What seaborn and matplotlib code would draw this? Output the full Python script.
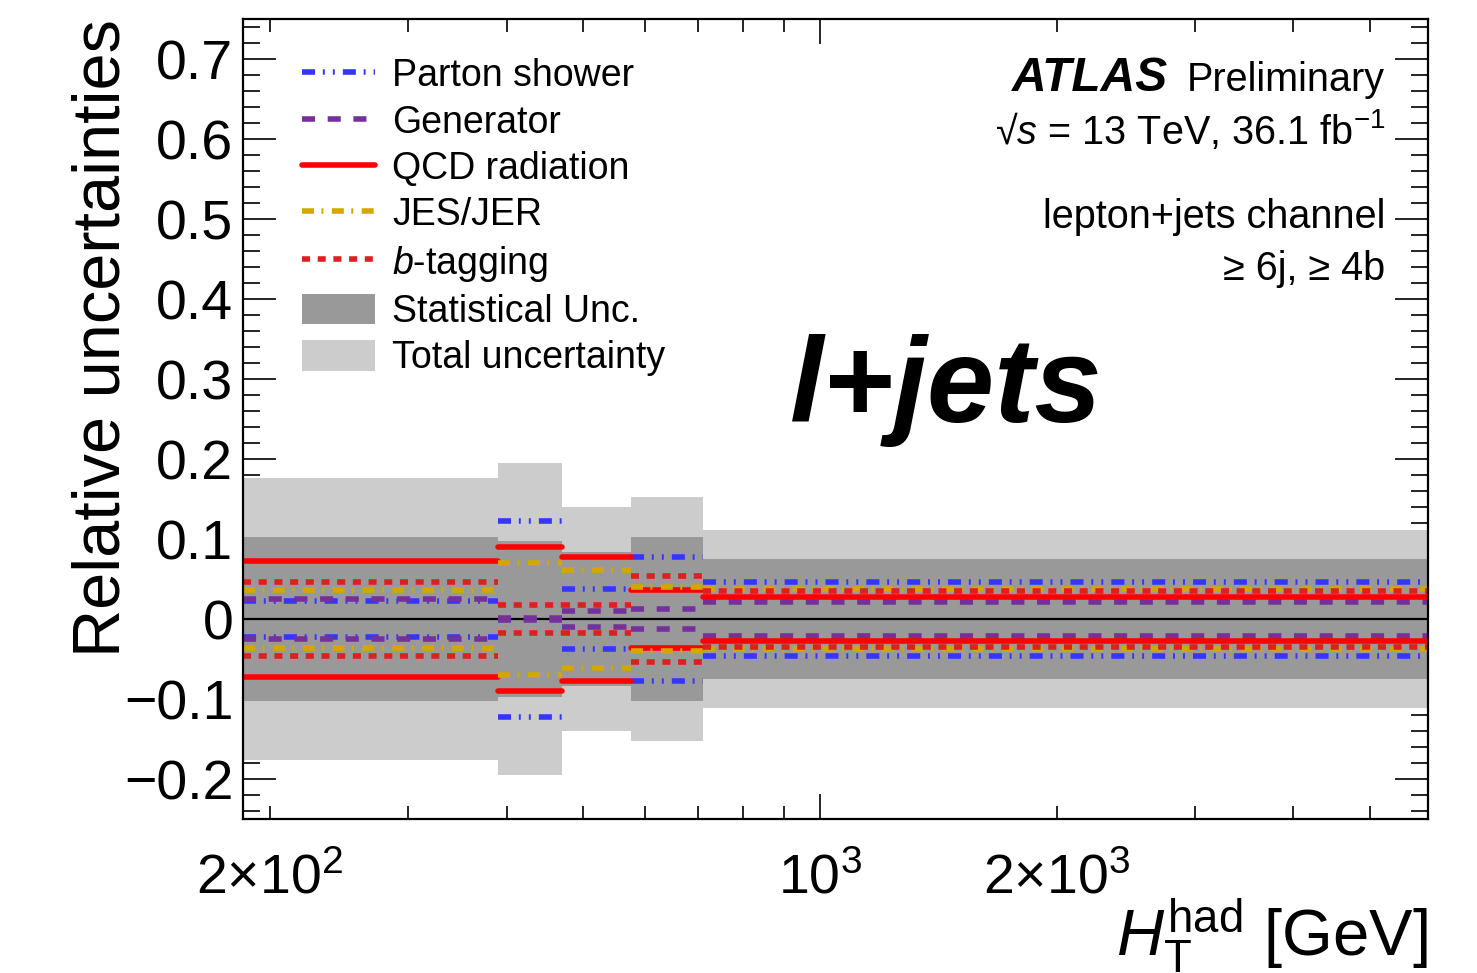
import numpy as np
import pandas as pd
import matplotlib
matplotlib.use("Agg")
import matplotlib.pyplot as plt
from matplotlib.lines import Line2D
from matplotlib.patches import Patch
from matplotlib.ticker import FixedLocator, FixedFormatter, MultipleLocator, FuncFormatter
import seaborn as sns

# ---- binning in H_T^had [GeV] ----
bin_edges = [185, 390, 470, 575, 710, 5930]

# ---- relative uncertainties per bin (symmetric, +/-) ----
parton_shower = [0.022, 0.123, 0.037, 0.078, 0.046]
generator = [0.025, 0.001, 0.010, 0.012, 0.021]
qcd_radiation = [0.073, 0.090, 0.077, 0.036, 0.028]
jes_jer = [0.036, 0.070, 0.061, 0.040, 0.037]
b_tagging = [0.046, 0.017, 0.017, 0.054, 0.035]
stat_unc = [0.103, 0.097, 0.084, 0.102, 0.075]
total_unc = [0.176, 0.195, 0.140, 0.153, 0.111]

source_names = ["Parton shower", "Generator", "QCD radiation", "JES/JER", "$b$-tagging"]
legend_band_names = ["Statistical Unc.", "Total uncertainty"]

y_tick_values = [-0.2, -0.1, 0.0, 0.1, 0.2, 0.3, 0.4, 0.5, 0.6, 0.7]
y_tick_labels = ["\u22120.2", "\u22120.1", "0", "0.1", "0.2", "0.3", "0.4", "0.5", "0.6", "0.7"]
x_major_ticks = [1000]
x_minor_ticks = [200, 300, 400, 500, 600, 700, 800, 900, 2000, 3000, 4000, 5000]
x_tick_labels = {200: r"$2{\times}10^{2}$", 1000: r"$10^{3}$", 2000: r"$2{\times}10^{3}$"}

# ---- style ----
sns.set_theme(style="ticks")
plt.rcParams["font.family"] = ["Liberation Sans", "DejaVu Sans"]
plt.rcParams["mathtext.fontset"] = "custom"
plt.rcParams["mathtext.rm"] = "Liberation Sans"
plt.rcParams["mathtext.it"] = "Liberation Sans:italic"
plt.rcParams["mathtext.bf"] = "Liberation Sans:bold"
plt.rcParams["lines.scale_dashes"] = False
plt.rcParams["lines.dash_capstyle"] = "butt"
plt.rcParams["text.color"] = "black"
plt.rcParams["axes.labelcolor"] = "black"
plt.rcParams["xtick.color"] = "black"
plt.rcParams["ytick.color"] = "black"

colors = {
    "Parton shower": "#3535ff",
    "Generator": "#76309c",
    "QCD radiation": "#ff0000",
    "JES/JER": "#d2a800",
    "$b$-tagging": "#dc2020",
}
dash_map = {
    "Parton shower": (9.4, 5.6, 1.4, 5.8, 1.4, 5.8),
    "Generator": (9.4, 9.1),
    "QCD radiation": "",
    "JES/JER": (8.6, 5.4, 1.4, 6.1),
    "$b$-tagging": (5.8, 5.5),
}
LW = 4.0

fig = plt.figure(figsize=(14.77, 9.73), dpi=100)
ax = fig.add_axes([243 / 1477, 1 - 819 / 973, (1428 - 243) / 1477, 800 / 973])
ax.set_xscale("log")

# ---- uncertainty bands ----
edges = np.array(bin_edges, dtype=float)
tot = np.r_[total_unc, total_unc[-1]]
sta = np.r_[stat_unc, stat_unc[-1]]
ax.fill_between(edges, -tot, tot, step="post", color="#cccccc", lw=0, zorder=1)
ax.fill_between(edges, -sta, sta, step="post", color="#999999", lw=0, zorder=1.1)
ax.axhline(0, color="black", lw=1.6, zorder=1.5)

# ---- systematic components as per-bin horizontal segments ----
rows = []
series = [parton_shower, generator, qcd_radiation, jes_jer, b_tagging]
for name, vals in zip(source_names, series):
    for i, v in enumerate(vals):
        for sign in (1, -1):
            seg = f"{name}_{i}_{sign}"
            rows.append(dict(x=bin_edges[i], y=sign * v, source=name, seg=seg))
            rows.append(dict(x=bin_edges[i + 1], y=sign * v, source=name, seg=seg))
df = pd.DataFrame(rows)

sns.lineplot(
    data=df, x="x", y="y", hue="source", style="source", units="seg",
    estimator=None, sort=False, palette=colors, dashes=dash_map,
    hue_order=source_names, style_order=source_names,
    linewidth=LW, legend=False, ax=ax, zorder=2,
)

# ---- axes ----
ax.set_xlim(bin_edges[0], bin_edges[-1])
ax.set_ylim(-0.25, 0.75)
ax.xaxis.set_major_locator(FixedLocator(x_major_ticks))
ax.xaxis.set_minor_locator(FixedLocator(x_minor_ticks))
ax.xaxis.set_major_formatter(FuncFormatter(lambda v, p: x_tick_labels.get(int(round(v)), "")))
ax.xaxis.set_minor_formatter(FuncFormatter(lambda v, p: x_tick_labels.get(int(round(v)), "")))
ax.yaxis.set_major_locator(FixedLocator(y_tick_values))
ax.yaxis.set_major_formatter(FixedFormatter(y_tick_labels))
ax.yaxis.set_minor_locator(MultipleLocator(0.02))

for s in ax.spines.values():
    s.set_linewidth(1.6)
    s.set_color("black")
    s.set_zorder(5)

ax.tick_params(axis="both", which="both", direction="in", top=True, right=True,
               colors="black", width=1.2, labelsize=40)
ax.tick_params(axis="y", which="major", length=23.5, pad=7)
ax.tick_params(axis="y", which="minor", length=12)
ax.tick_params(axis="x", which="major", length=18, pad=25)
ax.tick_params(axis="x", which="minor", length=9.5, pad=25)
ax.grid(False)

ax.set_ylabel("Relative uncertainties", fontsize=48, loc="top")
ax.yaxis.set_label_coords(-0.092, 1.0)
ax.set_xlabel(r"$H_{\mathrm{T}}^{\mathrm{had}}$ [GeV]", fontsize=47, loc="right")
ax.xaxis.set_label_coords(1.0, -0.097)

# ---- legend ----
handles = [
    Line2D([], [], color=colors[n], lw=LW,
           linestyle="-" if dash_map[n] == "" else (0, dash_map[n]))
    for n in source_names
]
handles += [Patch(facecolor="#999999", edgecolor="none"),
            Patch(facecolor="#cccccc", edgecolor="none")]
fig.legend(handles, source_names + legend_band_names,
           loc="upper left", bbox_to_anchor=(302 / 1477, 1 - 58 / 973),
           bbox_transform=fig.transFigure, frameon=False, fontsize=27,
           handlelength=1.95, handleheight=0.88, handletextpad=0.45,
           labelspacing=0.27, borderpad=0, borderaxespad=0)

# ---- labels ----
xr = 1385 / 1477
fig.text(xr, 1 - 91 / 973, "Preliminary", fontsize=28.5, ha="right", va="baseline")
fig.text(1168 / 1477, 1 - 91 / 973, "ATLAS", fontsize=34.5, fontweight="bold",
         fontstyle="italic", ha="right", va="baseline")
fig.text(xr, 1 - 144 / 973, "\u221a$s$ = 13 TeV, 36.1 fb$^{-1}$", fontsize=28.5,
         ha="right", va="baseline")
fig.text(xr, 1 - 228 / 973, "lepton+jets channel", fontsize=28.5, ha="right", va="baseline")
fig.text(xr, 1 - 280 / 973, "\u2265 6j, \u2265 4b", fontsize=28.5, ha="right", va="baseline")
fig.text(790 / 1477, 1 - 422 / 973, "l+jets", fontsize=87, fontweight="bold",
         fontstyle="italic", ha="left", va="baseline")

fig.savefig("out.png", dpi=100, facecolor="white")
